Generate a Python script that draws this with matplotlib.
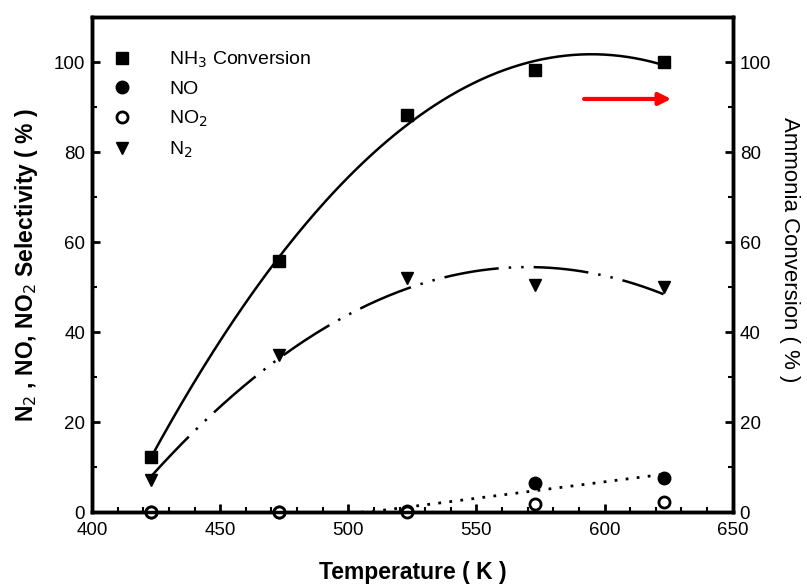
import numpy as np
import matplotlib
matplotlib.use("Agg")
import matplotlib.pyplot as plt

plt.rcParams['font.family'] = ['Liberation Sans', 'DejaVu Sans']

temperature = [423, 473, 523, 573, 623]
nh3_conversion = [12.2, 55.8, 88.3, 98.2, 100.0]
no_sel = [0.0, 0.0, 0.3, 6.4, 7.6]
no2_sel = [0.0, 0.0, 0.0, 1.8, 2.2]
n2_sel = [7.1, 35.0, 52.0, 50.5, 50.0]

fig = plt.figure(figsize=(8.07, 5.88), dpi=100)
ax = fig.add_axes([0.114, 0.129, 0.794, 0.842])
ax2 = ax.twinx()

t = np.array(temperature, dtype=float)
tt = np.linspace(423, 623, 200)

# fitted trend curves
c_nh3 = np.polyfit(t, nh3_conversion, 2)
ax2.plot(tt, np.polyval(c_nh3, tt), color='black', lw=1.8, zorder=2)
c_n2 = np.polyfit(t, n2_sel, 2)
ax.plot(tt, np.polyval(c_n2, tt), color='black', lw=1.8,
        dashes=(22, 4, 1, 4, 1, 4), zorder=2)
c_no = np.polyfit(t[2:], no_sel[2:], 1)
tno = np.linspace(505, 623, 100)
ax.plot(tno, np.clip(np.polyval(c_no, tno), 0, None), color='black', lw=2,
        dashes=(1, 3), zorder=2)

ms = 9
ax2.plot(t, nh3_conversion, 's', color='black', ms=ms, zorder=5)
h_nh3 = ax2.lines[-1]
h_no, = ax.plot(t, no_sel, 'o', color='black', ms=ms, zorder=5, clip_on=False)
h_no2, = ax.plot(t, no2_sel, 'o', mfc='white', mec='black', mew=2, ms=ms-1, zorder=5,
                 clip_on=False)
h_n2, = ax.plot(t, n2_sel, 'v', color='black', ms=ms, zorder=5)

ax.set_xlim(400, 650)
ax.set_ylim(0, 110)
ax2.set_ylim(0, 110)
ax.set_xticks([400, 450, 500, 550, 600, 650])
ax.set_xticks(np.arange(400, 651, 10), minor=True)
ax.set_yticks([0, 20, 40, 60, 80, 100])
ax.set_yticks(np.arange(0, 101, 10), minor=True)
ax2.set_yticks([0, 20, 40, 60, 80, 100])
ax2.set_yticks(np.arange(0, 101, 10), minor=True)

for a in (ax, ax2):
    for s in a.spines.values():
        s.set_linewidth(2.5)
    a.tick_params(which='major', direction='in', length=6, width=2, labelsize=13.5)
    a.tick_params(which='minor', direction='in', length=3.5, width=1.5)
ax.tick_params(axis='x', pad=7)
ax.tick_params(axis='y', pad=5)
ax2.tick_params(axis='y', pad=5)

ax.set_xlabel('Temperature ( K )', fontsize=16.5, fontweight='bold', labelpad=16)
ax.set_ylabel('N$_2$ , NO, NO$_2$ Selectivity ( % )', fontsize=16.5, fontweight='bold', labelpad=10)
ax2.set_ylabel('Ammonia Conversion ( % )', fontsize=16, rotation=270, labelpad=18)
ax2.yaxis.set_label_coords(1.105, 0.53)

ax.legend([h_nh3, h_no, h_no2, h_n2],
          ['NH$_3$ Conversion', 'NO', 'NO$_2$', 'N$_2$'],
          loc='upper left', bbox_to_anchor=(0.002, 0.97), frameon=False,
          fontsize=14, handletextpad=1.8, labelspacing=0.55, handlelength=1.2)

ax2.annotate('', xy=(626, 91.8), xytext=(592, 91.8),
             arrowprops=dict(arrowstyle='-|>', color='red', lw=3, mutation_scale=18,
                             shrinkA=0, shrinkB=0))

fig.savefig('out.png', dpi=100)
